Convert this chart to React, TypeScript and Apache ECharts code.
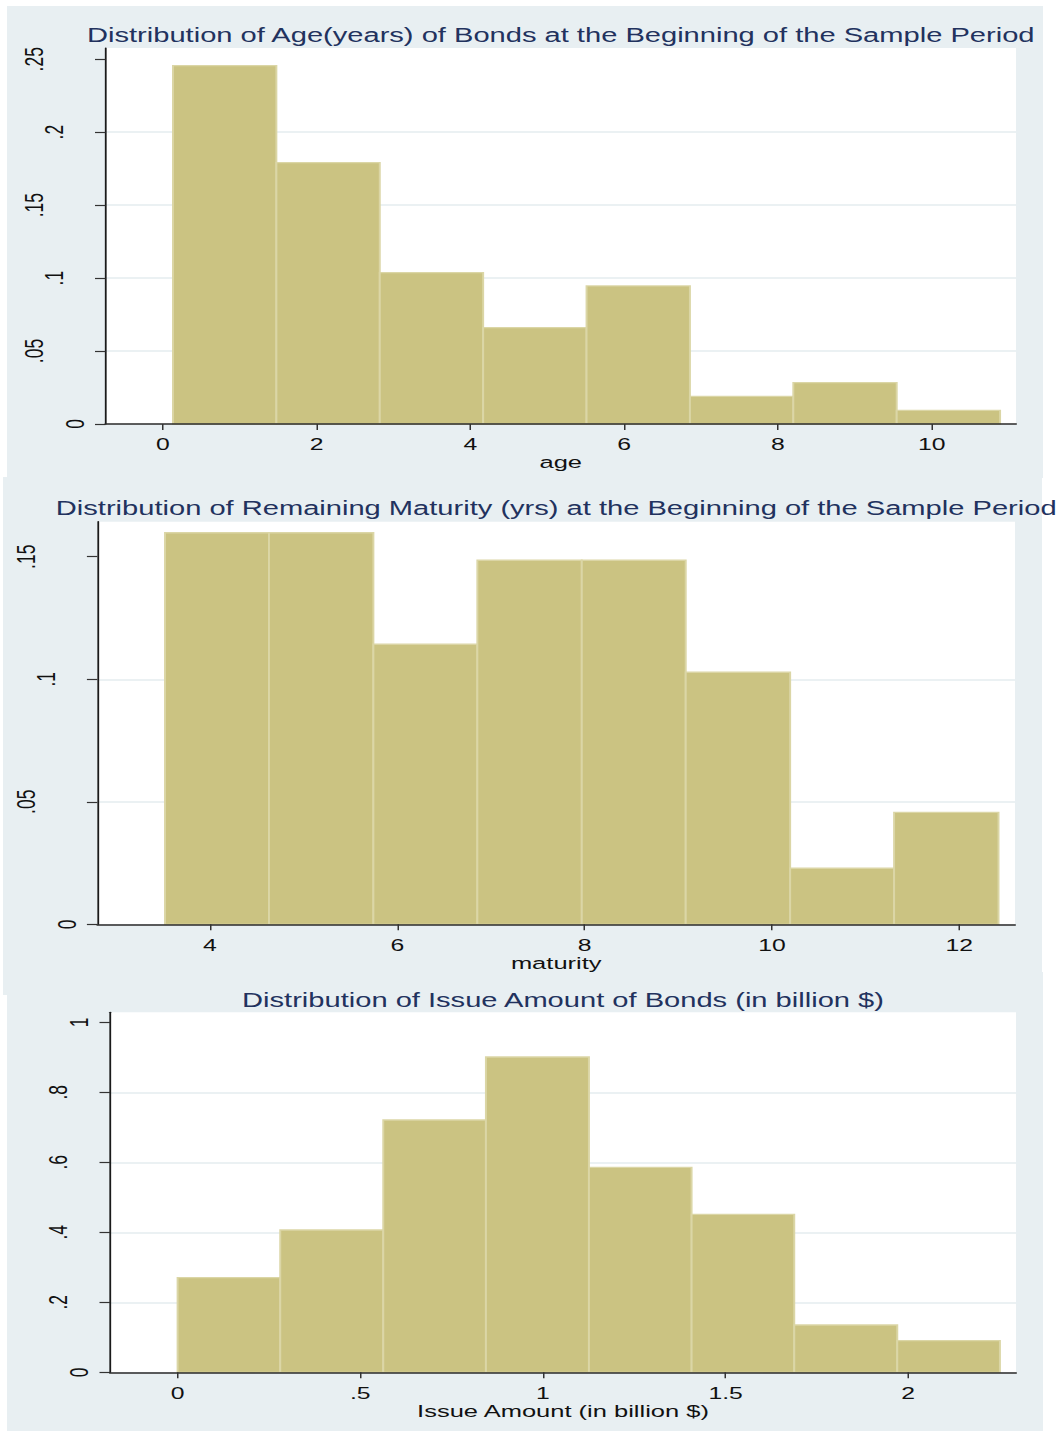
import React, { useEffect, useRef } from "react";
import * as echarts from "echarts";

// ---------- data ----------
const ageTitle = "Distribution of Age(years) of Bonds at the Beginning of the Sample Period";
const ageAxisName = "age";
const ageBinEdges = [0.13, 1.475, 2.82, 4.165, 5.51, 6.855, 8.2, 9.545, 10.89];
const ageDensity = [0.2456, 0.1791, 0.1037, 0.066, 0.0946, 0.019, 0.0283, 0.0094];
const ageXTicks = [0, 2, 4, 6, 8, 10];
const ageYTicks = [0, 0.05, 0.1, 0.15, 0.2, 0.25];

const maturityTitle = "Distribution of Remaining Maturity (yrs) at the Beginning of the Sample Period";
const maturityAxisName = "maturity";
const maturityBinEdges = [3.52, 4.63, 5.745, 6.855, 7.97, 9.08, 10.195, 11.305, 12.42];
const maturityDensity = [0.1598, 0.1598, 0.1143, 0.1486, 0.1486, 0.1029, 0.0229, 0.0457];
const maturityXTicks = [4, 6, 8, 10, 12];
const maturityYTicks = [0, 0.05, 0.1, 0.15];

const issueTitle = "Distribution of Issue Amount of Bonds (in billion $)";
const issueAxisName = "Issue Amount (in billion $)";
const issueBinEdges = [0, 0.281, 0.563, 0.844, 1.126, 1.407, 1.688, 1.97, 2.251];
const issueDensity = [0.2703, 0.4066, 0.7209, 0.9009, 0.5857, 0.4514, 0.1351, 0.0903];
const issueXTicks = [0, 0.5, 1, 1.5, 2];
const issueYTicks = [0, 0.2, 0.4, 0.6, 0.8, 1];

// ---------- layout (page pixels) ----------
const SX = 1.5; // horizontal stretch of the reference
const PAGE_W = 1060;
const PAGE_H = 1431;
const BASE_W = PAGE_W / SX;

const FONT = "'Liberation Sans', Arial, Helvetica, sans-serif";
const BG = "#e8eff2";
const GRID = "#e4ecef";
const BAR = "#cbc382";
const BAR_EDGE = "#dbd6a6";
const TITLE_COLOR = "#22325e";
const TEXT = "#111111";
const YLAB_SIZE = 17.5;

const panels = [
  {
    title: ageTitle, axisName: ageAxisName, edges: ageBinEdges, density: ageDensity,
    xTicks: ageXTicks, yTicks: ageYTicks, yInterval: 0.05,
    bg: [7, 6, 1043, 478], plot: [105.5, 48, 1016, 424],
    xRange: [-0.748, 11.097], yMax: 0.2577, titleY: 35, nameGap: 26.5,
  },
  {
    title: maturityTitle, axisName: maturityAxisName, edges: maturityBinEdges, density: maturityDensity,
    xTicks: maturityXTicks, yTicks: maturityYTicks, yInterval: 0.05,
    bg: [3, 477, 1042, 995], plot: [97.4, 521.7, 1015, 924.3],
    xRange: [2.798, 12.596], yMax: 0.1643, titleY: 508, nameGap: 28,
  },
  {
    title: issueTitle, axisName: issueAxisName, edges: issueBinEdges, density: issueDensity,
    xTicks: issueXTicks, yTicks: issueYTicks, yInterval: 0.2,
    bg: [7, 972, 1043, 1431], plot: [110, 1012.3, 1016, 1372.3],
    xRange: [-0.185, 2.295], yMax: 1.0286, titleY: 1000, nameGap: 22,
  },
];

function fmt(v: number): string {
  const s = String(Math.round(v * 1000) / 1000);
  return s.replace(/^0\./, ".");
}

const richStyle = (pad: number) => ({
  fontSize: YLAB_SIZE,
  fontFamily: FONT,
  color: TEXT,
  padding: [0, 0, pad, 0],
});

export default function App() {
  const ref = useRef<HTMLDivElement>(null);

  useEffect(() => {
    document.body.style.margin = "0";
    const el = ref.current as HTMLDivElement;
    const chart = echarts.init(el, null, { renderer: "svg", width: BASE_W, height: PAGE_H });

    const grids: any[] = [];
    const xAxes: any[] = [];
    const yAxes: any[] = [];
    const series: any[] = [];
    const graphics: any[] = [];

    panels.forEach((p, i) => {
      const [l, t, r, b] = p.plot;
      const [bx0, by0, bx1, by1] = p.bg;

      graphics.push({
        type: "rect",
        z: -10,
        silent: true,
        shape: { x: bx0 / SX, y: by0, width: (bx1 - bx0) / SX, height: by1 - by0 },
        style: { fill: BG },
      });
      graphics.push({
        type: "text",
        z: 10,
        silent: true,
        x: (l + r) / 2 / SX,
        y: p.titleY,
        style: {
          text: p.title,
          align: "center",
          verticalAlign: "middle",
          fontSize: 19.4,
          fontFamily: FONT,
          fill: TITLE_COLOR,
        },
      });

      grids.push({
        left: l / SX,
        top: t,
        width: (r - l) / SX,
        height: b - t,
        show: true,
        backgroundColor: "#ffffff",
        borderWidth: 0,
        containLabel: false,
      });

      xAxes.push({
        type: "value",
        gridIndex: i,
        min: p.xRange[0],
        max: p.xRange[1],
        z: 3,
        axisLine: { show: true, onZero: false, lineStyle: { color: "#2a2a2a", width: 1.5 } },
        axisTick: { show: true, length: 6, customValues: p.xTicks, lineStyle: { color: "#333", width: 1 } },
        axisLabel: {
          show: true,
          customValues: p.xTicks,
          margin: 12,
          fontSize: 16.5,
          fontFamily: FONT,
          color: TEXT,
          formatter: (v: number) => fmt(v),
        },
        splitLine: { show: false },
        name: p.axisName,
        nameLocation: "middle",
        nameGap: p.nameGap,
        nameTextStyle: { fontSize: 17, fontFamily: FONT, color: TEXT },
      });

      yAxes.push({
        type: "value",
        gridIndex: i,
        min: 0,
        max: p.yMax,
        interval: p.yInterval,
        axisLine: { show: true, onZero: false, lineStyle: { color: "#1a1a1a", width: 1.2 } },
        axisTick: { show: true, length: 7, customValues: p.yTicks, lineStyle: { color: "#333", width: 1.2 } },
        axisLabel: {
          show: true,
          customValues: p.yTicks,
          rotate: 90,
          margin: 9,
          fontSize: YLAB_SIZE,
          fontFamily: FONT,
          color: TEXT,
          formatter: (v: number) => {
            const s = fmt(v);
            return `{c${Math.min(s.length, 3)}|${s}}`;
          },
          rich: { c1: richStyle(2.3), c2: richStyle(16.3), c3: richStyle(29.6) },
        },
        splitLine: { show: true, showMaxLine: false, showMinLine: false, lineStyle: { color: GRID, width: 1.6 } },
      });

      series.push({
        type: "custom",
        xAxisIndex: i,
        yAxisIndex: i,
        silent: true,
        z: 2,
        data: p.density.map((d, k) => [p.edges[k], p.edges[k + 1], d]),
        encode: { x: [0, 1], y: 2 },
        renderItem: (_params: any, api: any) => {
          const a = api.coord([api.value(0), 0]);
          const c = api.coord([api.value(1), api.value(2)]);
          return {
            type: "rect",
            shape: { x: a[0], y: c[1], width: c[0] - a[0], height: a[1] - c[1] },
            style: { fill: BAR, stroke: BAR_EDGE, lineWidth: 1.3 },
          };
        },
      });
    });

    chart.setOption({
      animation: false,
      grid: grids,
      xAxis: xAxes,
      yAxis: yAxes,
      series,
      graphic: { elements: graphics },
    });

    return () => {
      chart.dispose();
    };
  }, []);

  return (
    <div
      ref={ref}
      style={{
        width: BASE_W,
        height: PAGE_H,
        transform: `scaleX(${SX})`,
        transformOrigin: "0 0",
      }}
    />
  );
}
